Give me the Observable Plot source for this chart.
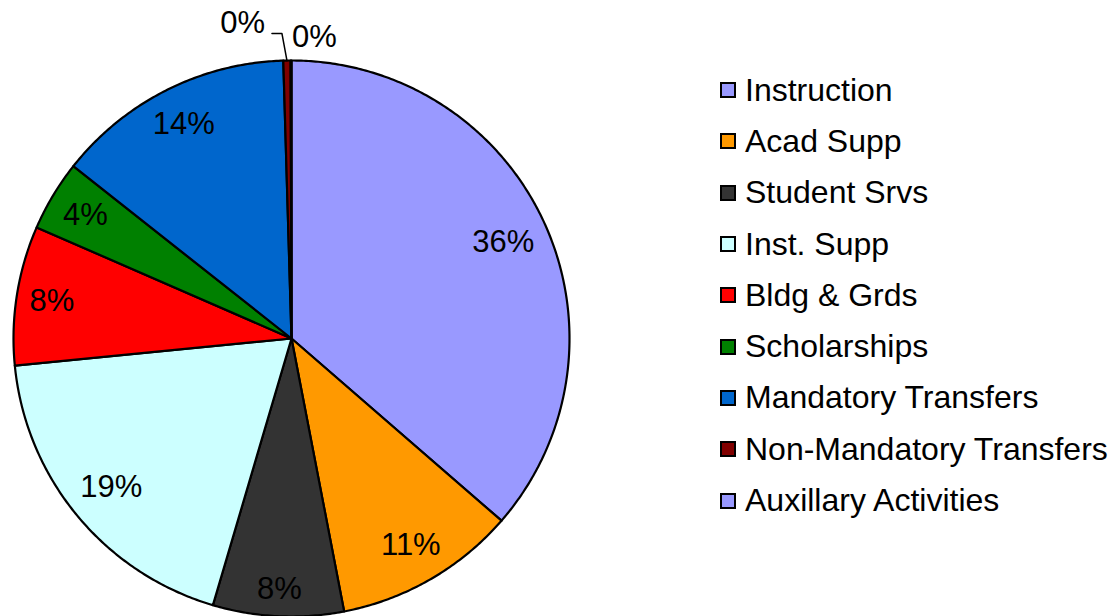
<!DOCTYPE html>
<html><head><meta charset="utf-8">
<script src="https://cdn.jsdelivr.net/npm/d3@7"></script>
<script src="https://cdn.jsdelivr.net/npm/@observablehq/plot@0.6"></script>
<style>
body{margin:0;background:#fff;font-family:"Liberation Sans",Arial,sans-serif;}
#wrap{position:relative;width:1115px;height:616px;overflow:hidden;}
#chart svg{display:block;}
#legend{position:absolute;left:720px;top:64.5px;}
.item{display:flex;align-items:center;height:51.3px;font-size:32px;color:#000;white-space:nowrap;}
.sw{width:16px;height:16px;border:2px solid #000;box-sizing:border-box;margin-right:9px;flex:none;}
</style></head>
<body><div id="wrap"><div id="chart"></div><div id="legend"></div></div>
<script>
// ---- data ----
const categories = ["Instruction","Acad Supp","Student Srvs","Inst. Supp","Bldg & Grds","Scholarships","Mandatory Transfers","Non-Mandatory Transfers","Auxillary Activities"];
const values = [36.4, 10.6, 7.6, 18.9, 8.1, 4.1, 13.9, 0.42, 0.05];
const colors = ["#9999FF","#FF9900","#333333","#CCFFFF","#FF0000","#008000","#0066CC","#800000","#9999FF"];

// ---- layout ----
const W = 1115, H = 616;
const R = 278, CX = 291, CY = 338; // pixel geometry of the pie
const px = 1 / R; // one pixel in data units
const total = d3.sum(values);
const arcs = d3.pie().sort(null).value(d => d)(values);

const pt = (a, r) => [r * Math.sin(a), r * Math.cos(a)];

// slice polygons
const poly = [];
arcs.forEach((a, i) => {
  const n = Math.max(2, Math.ceil((a.endAngle - a.startAngle) / (Math.PI / 360)));
  poly.push({k: i, cat: categories[i], x: 0, y: 0});
  for (let j = 0; j <= n; j++) {
    const t = a.startAngle + (a.endAngle - a.startAngle) * j / n;
    const [x, y] = pt(t, 1);
    poly.push({k: i, cat: categories[i], x, y});
  }
  poly.push({k: i, cat: categories[i], x: 0, y: 0});
});

// labels
const fs = 31;
const inside = [], outside = [], leader = [];
let small = 0;
arcs.forEach((a, i) => {
  const pct = Math.round(values[i] / total * 100);
  const text = pct + "%";
  const mid = (a.startAngle + a.endAngle) / 2;
  if (values[i] / total >= 0.01) {
    const w = (String(pct).length * 0.556 + 0.889) * fs;
    const h = 0.95 * fs;
    const ux = Math.sin(mid), uy = Math.cos(mid);
    const ext = Math.abs(ux) * w / 2 + Math.abs(uy) * h / 2;
    const r = (R - 11 - ext) / R;
    const [x, y] = pt(mid, r);
    inside.push({x, y, text});
  } else {
    const [x0, y0] = pt(mid, 1);
    if (small === 0) {
      const p1 = [x0 - 5 * px, y0 + 27 * px];
      const p2 = [p1[0] - 10 * px, p1[1]];
      leader.push({x: x0, y: y0}, {x: p1[0], y: p1[1]}, {x: p2[0], y: p2[1]});
      outside.push({x: p2[0] - 7 * px, y: p2[1] + 10 * px, text, anchor: "end"});
    } else {
      outside.push({x: x0 + 1 * px, y: y0 + 23 * px, text, anchor: "start"});
    }
    small++;
  }
});

const chart = Plot.plot({
  width: W, height: H,
  margin: 0,
  x: {domain: [-CX / R, (W - CX) / R], axis: null},
  y: {domain: [-(H - CY) / R, CY / R], axis: null},
  color: {domain: categories, range: colors},
  style: {fontFamily: '"Liberation Sans", Arial, sans-serif', background: "#fff", overflow: "visible"},
  marks: [
    Plot.line(poly, {x: "x", y: "y", z: "k", fill: "cat", stroke: "#000", strokeWidth: 2.2, strokeLinejoin: "round", curve: "linear"}),
    Plot.text(inside, {x: "x", y: "y", text: "text", fontSize: fs, fill: "#000", textAnchor: "middle", lineAnchor: "middle"}),
    Plot.line(leader, {x: "x", y: "y", stroke: "#000", strokeWidth: 1.5}),
    Plot.text(outside.filter(d => d.anchor === "end"), {x: "x", y: "y", text: "text", fontSize: fs, fill: "#000", textAnchor: "end", lineAnchor: "middle"}),
    Plot.text(outside.filter(d => d.anchor === "start"), {x: "x", y: "y", text: "text", fontSize: fs, fill: "#000", textAnchor: "start", lineAnchor: "middle"})
  ]
});
document.getElementById("chart").appendChild(chart);

// legend
const lg = document.getElementById("legend");
categories.forEach((c, i) => {
  const row = document.createElement("div");
  row.className = "item";
  const sw = document.createElement("span");
  sw.className = "sw";
  sw.style.background = colors[i];
  const tx = document.createElement("span");
  tx.textContent = c;
  row.appendChild(sw); row.appendChild(tx);
  lg.appendChild(row);
});
</script>
</body></html>
